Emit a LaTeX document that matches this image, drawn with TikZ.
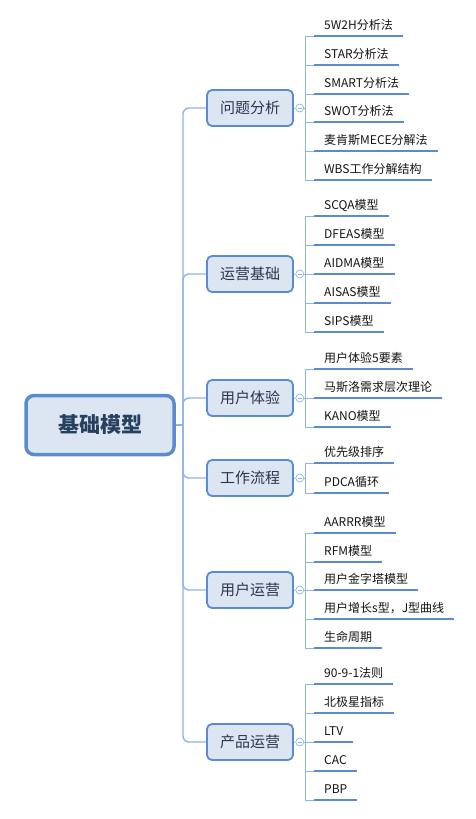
\documentclass[tikz,border=0pt]{standalone}
\usepackage{fontspec}
\setmainfont{Noto Sans CJK SC}
\usetikzlibrary{positioning}
\definecolor{edge}{HTML}{5A8AD0}
\definecolor{boxfill}{HTML}{DCE6F2}
\definecolor{linkc}{HTML}{8DB4E2}
\definecolor{roottext}{HTML}{254061}
\definecolor{topictext}{HTML}{2E3350}
\tikzset{
root/.style={draw=edge,fill=boxfill,line width=3.5pt,rounded corners=8pt,minimum width=148pt,minimum height=59pt,font=\fontsize{21}{24}\selectfont\bfseries,text=roottext},
topic/.style={draw=edge,fill=boxfill,line width=1.8pt,rounded corners=5pt,minimum width=86pt,minimum height=36pt,font=\fontsize{15}{18}\selectfont,text=topictext},
fold/.style={circle,draw=linkc,fill=white,line width=.7pt,inner sep=0pt,minimum size=8pt,path picture={\draw[linkc,line width=.6pt]([xshift=-2pt]path picture bounding box.center)--([xshift=2pt]path picture bounding box.center);}},
ul/.style={draw=edge,line width=2.6pt},
leaf/.style={anchor=south west,inner xsep=10pt,inner ysep=3.5pt,text height=9pt,text depth=3pt,font=\fontsize{12}{14}\selectfont,text=black!92,append after command={(\tikzlastnode.south west) edge[ul] (\tikzlastnode.south east)}},
link/.style={draw=linkc,line width=1pt},
trunk/.style={draw=linkc,line width=1.4pt,rounded corners=6pt}
}
\begin{document}
\begin{tikzpicture}[x=1pt,y=-1pt]
\useasboundingbox (0,0) rectangle (476,819);
\node[root](m) at (100,425){基础模型};
\coordinate (fk) at (183,425);
% first level
\node[topic](wt) at (250,108){问题分析};
\node[topic](yy) at (250,274){运营基础};
\node[topic](ty) at (250,398){用户体验};
\node[topic](lc) at (250,478){工作流程};
\node[topic](yh) at (250,590){用户运营};
\node[topic](cp) at (250,742){产品运营};
\draw[trunk](m.east)--(fk);
\foreach \t in {wt,yy,ty,lc,yh,cp}{
  \node[fold,right=1.5pt of \t](\t f){};
  \coordinate[right=1pt of \t f.east](\t b);
  \draw[link](\t)--(\t f);\draw[link](\t f)--(\t b);
  \draw[trunk](fk)|-(\t.west);
}
% leaves
\node[leaf](wt1) at (314,36){5W2H分析法};
\node[leaf](wt2) at (314,65){STAR分析法};
\node[leaf](wt3) at (314,94){SMART分析法};
\node[leaf](wt4) at (314,122){SWOT分析法};
\node[leaf](wt5) at (314,151){麦肯斯MECE分解法};
\node[leaf](wt6) at (314,180){WBS工作分解结构};
\node[leaf](yy1) at (314,216){SCQA模型};
\node[leaf](yy2) at (314,245){DFEAS模型};
\node[leaf](yy3) at (314,274){AIDMA模型};
\node[leaf](yy4) at (314,303){AISAS模型};
\node[leaf](yy5) at (314,332){SIPS模型};
\node[leaf](ty1) at (314,369){用户体验5要素};
\node[leaf](ty2) at (314,398){马斯洛需求层次理论};
\node[leaf](ty3) at (314,427){KANO模型};
\node[leaf](lc1) at (314,463){优先级排序};
\node[leaf](lc2) at (314,493){PDCA循环};
\node[leaf](yh1) at (314,533){AARRR模型};
\node[leaf](yh2) at (314,562){RFM模型};
\node[leaf](yh3) at (314,590){用户金字塔模型};
\node[leaf](yh4) at (314,619){用户增长s型，J型曲线};
\node[leaf](yh5) at (314,648){生命周期};
\node[leaf](cp1) at (314,684){90-9-1法则};
\node[leaf](cp2) at (314,713){北极星指标};
\node[leaf](cp3) at (314,742){LTV};
\node[leaf](cp4) at (314,771){CAC};
\node[leaf](cp5) at (314,800){PBP};
\foreach \t/\n in {wt/6,yy/5,ty/3,lc/2,yh/5,cp/5}
  \foreach \i in {1,...,\n}
    \draw[link](\t b)|-(\t\i.south west);
\end{tikzpicture}
\end{document}
